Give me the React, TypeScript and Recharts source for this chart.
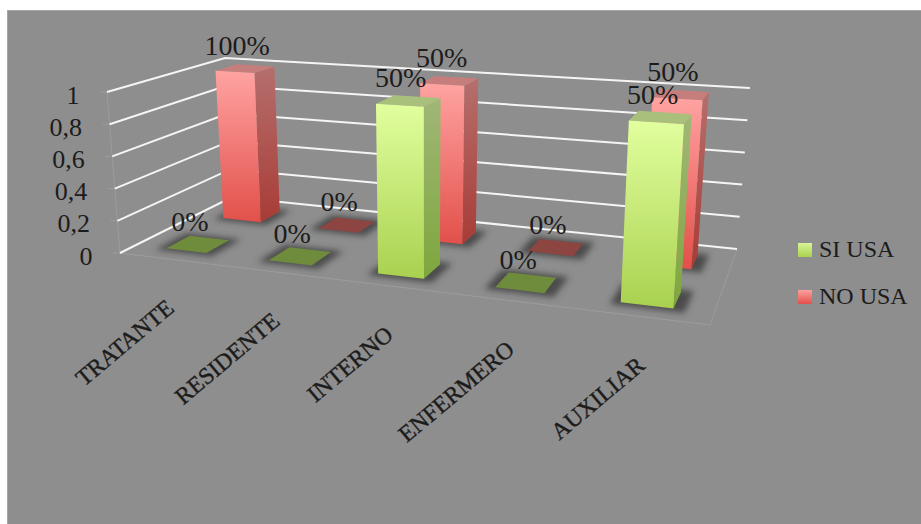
import React from "react";
import {
  BarChart,
  Bar,
  XAxis,
  YAxis,
  CartesianGrid,
  LabelList,
} from "recharts";

const categories = ["TRATANTE", "RESIDENTE", "INTERNO", "ENFERMERO", "AUXILIAR"];
const siUsa = [0, 0, 1, 0, 1];
const noUsa = [1, 0, 1, 0, 1];
const yTicks = [0, 0.2, 0.4, 0.6, 0.8, 1];
const legendItems = ["SI USA", "NO USA"];

// Labels show each count as its share of the row total
const share = (part: number, other: number) =>
  part + other === 0 ? "0%" : `${Math.round((part / (part + other)) * 100)}%`;

const rows = categories.map((category, i) => ({
  category,
  si: siUsa[i],
  no: noUsa[i],
  siLabel: share(siUsa[i], noUsa[i]),
  noLabel: share(noUsa[i], siUsa[i]),
}));

const WIDTH = 921;
const HEIGHT = 524;
const PLOT = { left: 100, top: 60, width: 600, height: 300 };
const AXIS_SIZE = 30;
const SERIF = "'Liberation Serif', serif";
const INK = "#1c1c1c";

type Pt = [number, number];

// Maps the unit square onto a quadrilateral (front-left, front-right, back-right, back-left)
const quad = (p: Pt[]) => {
  const [[x0, y0], [x1, y1], [x2, y2], [x3, y3]] = p;
  const dx1 = x1 - x2;
  const dx2 = x3 - x2;
  const sx = x0 - x1 + x2 - x3;
  const dy1 = y1 - y2;
  const dy2 = y3 - y2;
  const sy = y0 - y1 + y2 - y3;
  const den = dx1 * dy2 - dx2 * dy1;
  const g = (sx * dy2 - dx2 * sy) / den;
  const h = (dx1 * sy - sx * dy1) / den;
  const a = x1 - x0 + g * x1;
  const b = x3 - x0 + h * x3;
  const d = y1 - y0 + g * y1;
  const e = y3 - y0 + h * y3;
  return (u: number, t: number): Pt => {
    const w = g * u + h * t + 1;
    return [(a * u + b * t + x0) / w, (d * u + e * t + y0) / w];
  };
};

const floor = quad([[120, 253], [710, 325], [737, 249], [232, 197]]);
const ceiling = quad([[107, 92], [722, 134], [750, 88], [225, 58]]);

// u: along the categories, v: height on the value axis, t: depth into the chart
const project = (u: number, v: number, t: number): Pt => {
  // a little extra foreshortening along the category axis
  const w = u - 0.02 * u * (1 - u);
  const a = floor(w, t);
  const b = ceiling(w, t);
  return [a[0] + (b[0] - a[0]) * v, a[1] + (b[1] - a[1]) * v];
};

const toU = (x: number) => (x - PLOT.left) / PLOT.width;
const toV = (y: number) => (PLOT.top + PLOT.height - y) / PLOT.height;
const pts = (list: Pt[]) => list.map((p) => p.join(",")).join(" ");

const SI_ROW = { near: 0.13, far: 0.33, front: "url(#siFront)", side: "url(#siSide)", top: "#a9c07c", flat: "#6f8b3c" };
const NO_ROW = { near: 0.64, far: 0.84, front: "url(#noFront)", side: "url(#noSide)", top: "#c67e7c", flat: "#8c4541" };

// One column: floor shadow, then the side, top and front faces
const Column = ({ x, y, width, height, row }: any) => {
  const u0 = toU(x);
  const u1 = toU(x + width);
  const v = height / PLOT.height;
  const { near, far } = row;
  const shadow = [
    project(u0 - 0.014, 0, near - 0.035),
    project(u1 + 0.018, 0, near - 0.035),
    project(u1 + 0.018, 0, far + 0.03),
    project(u0 - 0.014, 0, far + 0.03),
  ];
  const flat = v === 0;
  return (
    <g>
      <polygon points={pts(shadow)} fill="#3e3e3e" fillOpacity={0.85} filter="url(#soft)" />
      {flat ? (
        <polygon
          points={pts([project(u0, 0, near), project(u1, 0, near), project(u1, 0, far), project(u0, 0, far)])}
          fill={row.flat}
        />
      ) : (
        <>
          <polygon
            points={pts([project(u1, 0, near), project(u1, 0, far), project(u1, v, far), project(u1, v, near)])}
            fill={row.side}
          />
          <polygon
            points={pts([project(u0, v, near), project(u1, v, near), project(u1, v, far), project(u0, v, far)])}
            fill={row.top}
          />
          <polygon
            points={pts([project(u0, 0, near), project(u1, 0, near), project(u1, v, near), project(u0, v, near)])}
            fill={row.front}
          />
        </>
      )}
    </g>
  );
};

// Percentage text above the middle of a column's top face
const ColumnLabel = ({ viewBox, value, row }: any) => {
  const { x, y, width } = viewBox;
  const [cx, cy] = project(toU(x + width / 2), toV(y), (row.near + row.far) / 2);
  return (
    <text
      x={cx - 8}
      y={cy - 23}
      textAnchor="middle"
      dominantBaseline="central"
      fontFamily={SERIF}
      fontSize={28}
      fill={INK}
    >
      {value}
    </text>
  );
};

// Wall lines for one axis value, plus the floor edges under the zero line
const GridLine = ({ y1 }: any) => {
  const v = toV(y1);
  const [fx, fy] = project(0, v, 0);
  return (
    <g fill="none">
      {v < 0.001 && (
        <polyline
          points={pts([project(0, 1, 0), project(0, 0, 0), project(1, 0, 0), project(1, 0, 1)])}
          stroke="#9c9c9c"
          strokeWidth={1}
        />
      )}
      <line x1={fx - 7} y1={fy} x2={fx} y2={fy} stroke="#9c9c9c" strokeWidth={1} />
      <polyline
        points={pts([project(0, v, 0), project(0, v, 1), project(1, v, 1)])}
        stroke="#f5f5f5"
        strokeWidth={2}
      />
    </g>
  );
};

const CategoryTick = ({ x, payload }: any) => {
  const [px, py] = project(toU(x), 0, 0);
  return (
    <text
      x={0}
      y={0}
      transform={`translate(${px} ${py + 45}) rotate(-40)`}
      textAnchor="end"
      dominantBaseline="central"
      fontFamily={SERIF}
      fontSize={23.5}
      stroke={INK}
      strokeWidth={0.4}
      fill={INK}
    >
      {payload.value}
    </text>
  );
};

const ValueTick = ({ y, payload }: any) => {
  const [px, py] = project(0, toV(y), 0);
  return (
    <text
      x={px - 27.5}
      y={py + 3}
      textAnchor="end"
      dominantBaseline="central"
      fontFamily={SERIF}
      fontSize={26}
      fill={INK}
    >
      {String(payload.value).replace(".", ",")}
    </text>
  );
};

const Gradient = ({ id, from, to }: { id: string; from: string; to: string }) => (
  <linearGradient id={id} x1="0" y1="0" x2="0" y2="1">
    <stop offset="0%" stopColor={from} />
    <stop offset="100%" stopColor={to} />
  </linearGradient>
);

export default function App() {
  document.body.style.margin = "0";
  return (
    <div style={{ position: "relative", width: WIDTH, height: HEIGHT, background: "#fff", overflow: "hidden" }}>
      <div
        style={{
          position: "absolute",
          left: 7,
          top: 10,
          right: 0,
          bottom: 0,
          background: "#8e8e8e",
          borderLeft: "1px solid #a6a6a6",
          borderTop: "1px solid #a6a6a6",
        }}
      />
      <div style={{ position: "absolute", left: 0, top: 0 }}>
        <BarChart
          width={WIDTH}
          height={HEIGHT}
          data={rows}
          margin={{
            left: PLOT.left - AXIS_SIZE,
            top: PLOT.top,
            right: WIDTH - PLOT.left - PLOT.width,
            bottom: HEIGHT - PLOT.top - PLOT.height - AXIS_SIZE,
          }}
          barSize={PLOT.width * 0.08}
          barGap={-PLOT.width * 0.08}
        >
          <defs>
            <Gradient id="siFront" from="#e1ff9e" to="#a9d14f" />
            <Gradient id="siSide" from="#a0b777" to="#7ea63d" />
            <Gradient id="noFront" from="#ffa3a1" to="#e2504a" />
            <Gradient id="noSide" from="#b56f6d" to="#a83c36" />
            <filter id="soft" x="-30%" y="-30%" width="160%" height="160%">
              <feGaussianBlur stdDeviation="3" />
            </filter>
          </defs>
          <CartesianGrid vertical={false} horizontal={(p: any) => <GridLine key={p.key} y1={p.y1} />} syncWithTicks />
          <XAxis
            dataKey="category"
            height={AXIS_SIZE}
            axisLine={false}
            tickLine={false}
            interval={0}
            tick={<CategoryTick />}
          />
          <YAxis
            width={AXIS_SIZE}
            domain={[0, 1]}
            ticks={yTicks}
            axisLine={false}
            tickLine={false}
            interval={0}
            tick={<ValueTick />}
          />
          <Bar dataKey="no" isAnimationActive={false} shape={(p: any) => <Column {...p} row={NO_ROW} />}>
            <LabelList dataKey="noLabel" content={(p: any) => <ColumnLabel {...p} row={NO_ROW} />} />
          </Bar>
          <Bar dataKey="si" isAnimationActive={false} shape={(p: any) => <Column {...p} row={SI_ROW} />}>
            <LabelList dataKey="siLabel" content={(p: any) => <ColumnLabel {...p} row={SI_ROW} />} />
          </Bar>
        </BarChart>
      </div>
      {legendItems.map((name, i) => (
        <div
          key={name}
          style={{
            position: "absolute",
            left: 798,
            top: 242 + i * 47,
            display: "flex",
            alignItems: "center",
            height: 15,
            fontFamily: SERIF,
            fontSize: 24,
            color: INK,
            whiteSpace: "nowrap",
          }}
        >
          <span
            style={{
              width: 14,
              height: 14,
              marginRight: 7,
              background:
                i === 0
                  ? "linear-gradient(#d8f598, #a9d14f)"
                  : "linear-gradient(#fda09e, #e2504a)",
            }}
          />
          {name}
        </div>
      ))}
    </div>
  );
}
